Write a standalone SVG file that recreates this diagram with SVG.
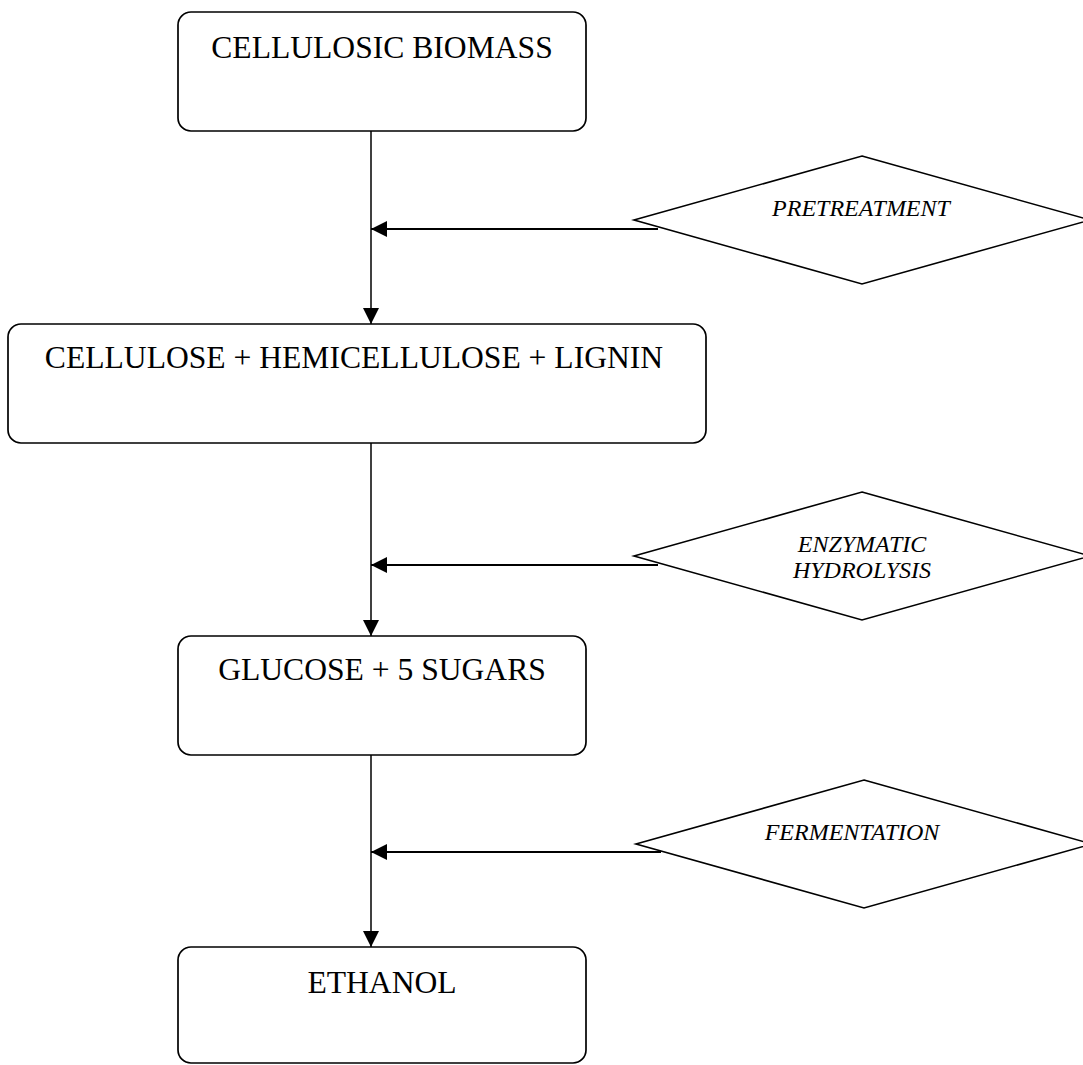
<svg xmlns="http://www.w3.org/2000/svg" width="1083" height="1065" viewBox="0 0 1083 1065">
<style>
.box{fill:#fff;stroke:#000;stroke-width:1.7}
.dia{fill:#fff;stroke:#000;stroke-width:1.6}
.t{font-family:"Liberation Serif","Times New Roman",serif;font-size:31.6px;fill:#000;text-anchor:middle}
.ti{font-family:"Liberation Serif","Times New Roman",serif;font-size:24px;font-style:italic;fill:#000;text-anchor:middle}
.v{stroke:#000;stroke-width:1.5;fill:none}
.h{stroke:#000;stroke-width:2;fill:none}
</style>
<defs>
<marker id="ah" markerUnits="userSpaceOnUse" markerWidth="16" markerHeight="16" refX="16" refY="8" orient="auto">
<path d="M0,0 L16,8 L0,16 z" fill="#000"/>
</marker>
</defs>
<rect width="1083" height="1065" fill="#fff"/>
<g id="n1">
<rect class="box" x="178" y="12" width="408" height="119" rx="13"/>
<text class="t" x="382" y="58">CELLULOSIC BIOMASS</text>
</g>
<g id="d1">
<polygon class="dia" points="862,156 1090,220 862,284 634,220"/>
<text class="ti" x="861" y="216">PRETREATMENT</text>
</g>
<g id="n2">
<rect class="box" x="8" y="324" width="698" height="119" rx="13"/>
<text class="t" x="354" y="368">CELLULOSE + HEMICELLULOSE + LIGNIN</text>
</g>
<g id="d2">
<polygon class="dia" points="862,492 1090,556 862,620 634,556"/>
<text class="ti" x="862" y="552">ENZYMATIC</text>
<text class="ti" x="862" y="578">HYDROLYSIS</text>
</g>
<g id="n3">
<rect class="box" x="178" y="636" width="408" height="119" rx="13"/>
<text class="t" x="382" y="680">GLUCOSE + 5 SUGARS</text>
</g>
<g id="d3">
<polygon class="dia" points="864,780 1092,844 864,908 636,844"/>
<text class="ti" x="852" y="840">FERMENTATION</text>
</g>
<g id="n4">
<rect class="box" x="178" y="947" width="408" height="116" rx="13"/>
<text class="t" x="382" y="993">ETHANOL</text>
</g>
<g id="connectors">
<line class="v" x1="371" y1="131" x2="371" y2="324" marker-end="url(#ah)"/>
<line class="v" x1="371" y1="443" x2="371" y2="636" marker-end="url(#ah)"/>
<line class="v" x1="371" y1="755" x2="371" y2="947" marker-end="url(#ah)"/>
<line class="h" x1="658" y1="229" x2="371" y2="229" marker-end="url(#ah)"/>
<line class="h" x1="658" y1="565" x2="371" y2="565" marker-end="url(#ah)"/>
<line class="h" x1="661" y1="852" x2="371" y2="852" marker-end="url(#ah)"/>
</g>
</svg>
